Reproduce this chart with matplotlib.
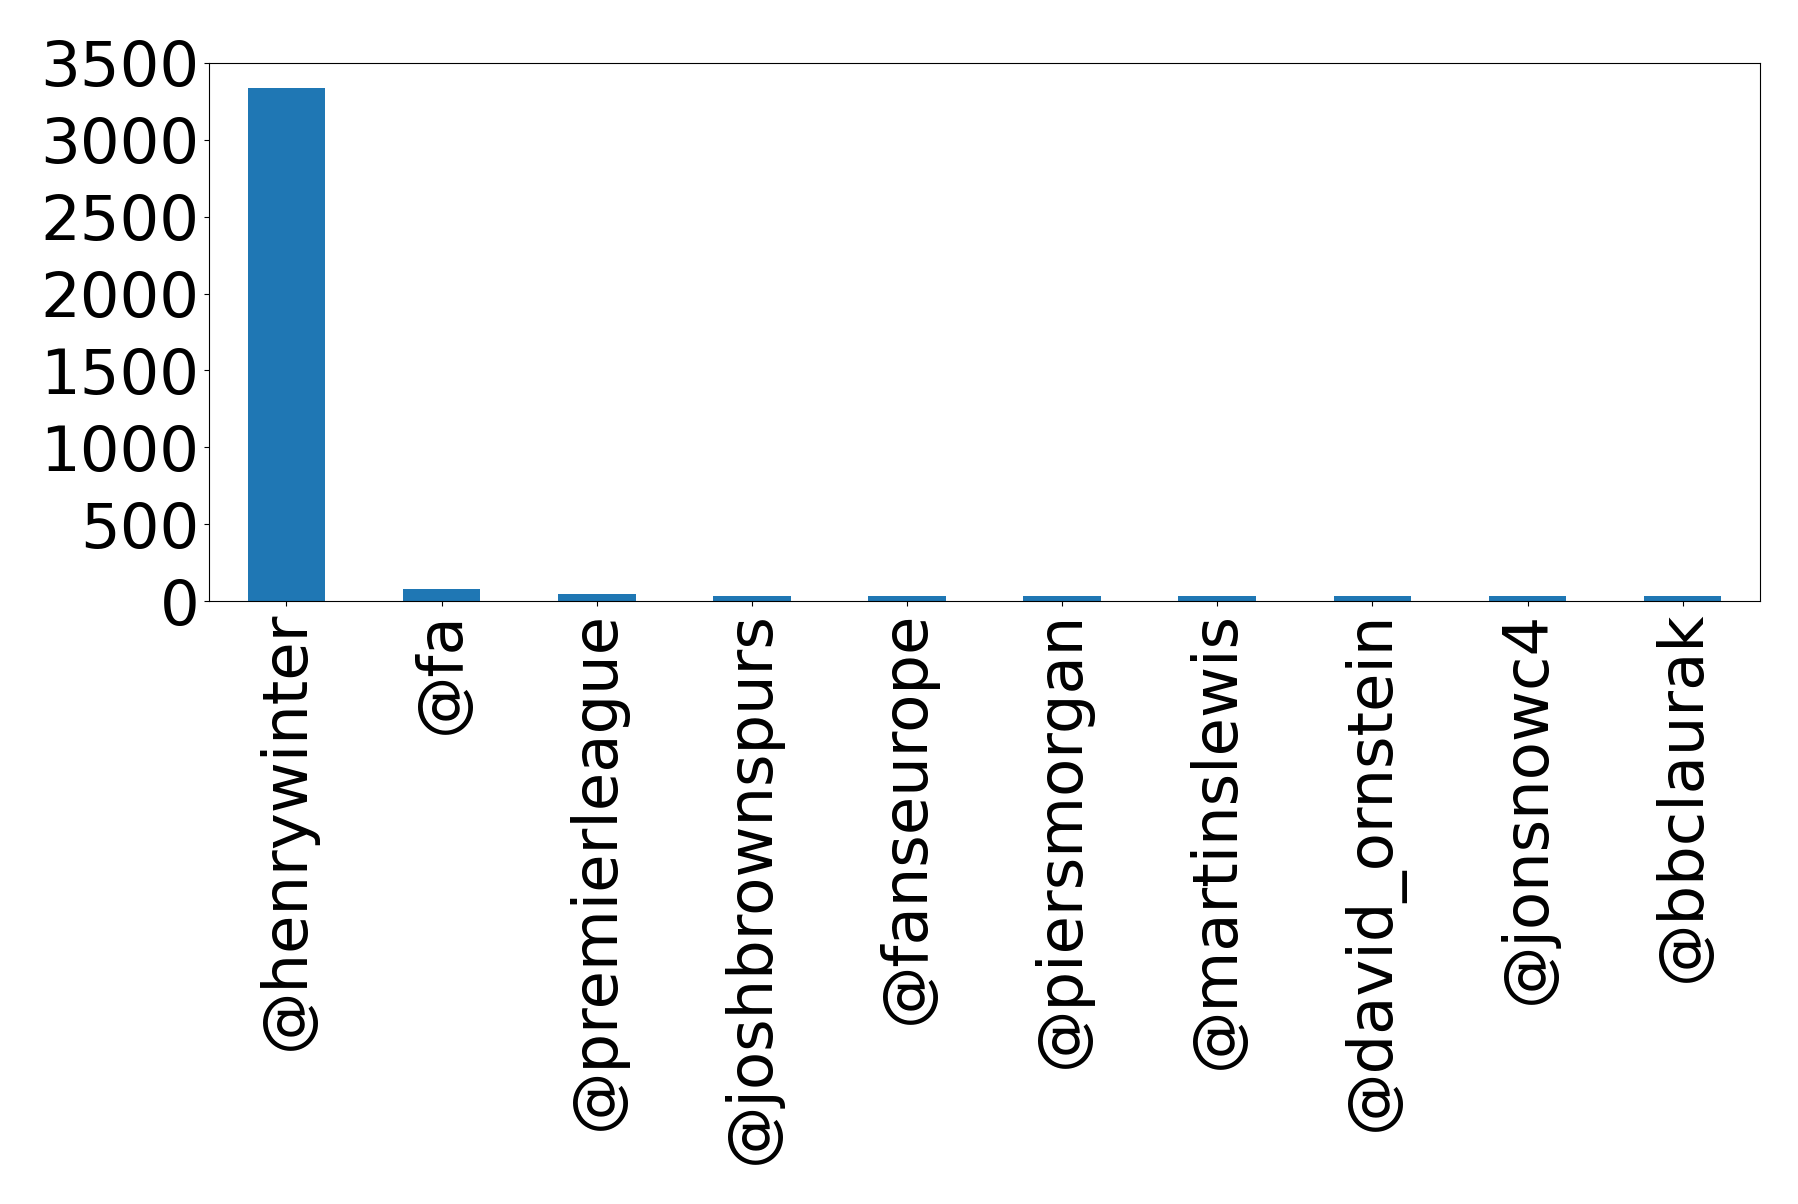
import matplotlib
matplotlib.use('Agg')
import matplotlib.pyplot as plt

users = ['@henrywinter', '@fa', '@premierleague', '@joshbrownspurs', '@fanseurope',
         '@piersmorgan', '@martinslewis', '@david_ornstein', '@jonsnowc4', '@bbclaurak']
counts = [3336, 76, 45, 34, 33, 33, 32, 32, 31, 31]

fig = plt.figure(figsize=(17.98, 12.04), dpi=100)
ax = fig.add_axes([0.1162, 0.5008, 0.979 - 0.1162, 0.9477 - 0.5008])

ax.bar(range(len(users)), counts, width=0.5, color='#1f77b4')
ax.set_xlim(-0.5, len(users) - 0.5)
ax.set_ylim(0, 3500)
ax.set_yticks(range(0, 3501, 500))
ax.set_xticks(range(len(users)))
ax.set_xticklabels(users, rotation=90)
ax.tick_params(axis='both', labelsize=45)

fig.savefig('out.png', dpi=100)
